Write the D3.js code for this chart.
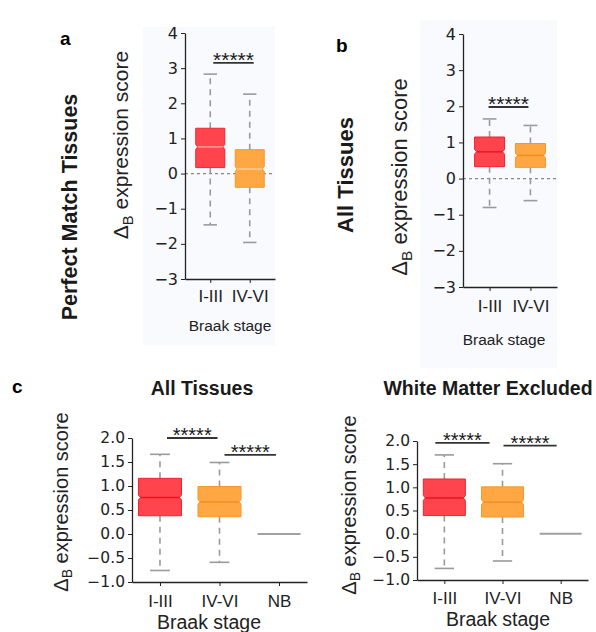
<!DOCTYPE html>
<html>
<head>
<meta charset="utf-8">
<script src="https://cdn.jsdelivr.net/npm/d3@7"></script>
<style>
  html, body { margin: 0; padding: 0; background: #ffffff; }
  svg { display: block; }
</style>
</head>
<body>
<svg id="fig" width="596" height="632"></svg>
<script>
// Braak stage groups
const stagesAB = ["I-III", "IV-VI"];
const stagesC = ["I-III", "IV-VI", "NB"];

// Panel a: Perfect Match Tissues (box statistics per stage)
const aLow  = [-1.46, -1.96];
const aQ1   = [0.17, -0.39];
const aMed  = [0.76, 0.13];
const aQ3   = [1.29, 0.68];
const aHigh = [2.83, 2.26];
const aSig  = [3.15];

// Panel b: All Tissues
const bLow  = [-0.80, -0.61];
const bQ1   = [0.33, 0.31];
const bMed  = [0.74, 0.64];
const bQ3   = [1.15, 0.97];
const bHigh = [1.65, 1.47];
const bSig  = [1.98];

// Panel c, left: All Tissues (with NB group)
const cAllLow  = [-0.76, -0.59, 0];
const cAllQ1   = [0.38, 0.36, 0];
const cAllMed  = [0.76, 0.67, 0];
const cAllQ3   = [1.16, 0.99, 0];
const cAllHigh = [1.66, 1.49, 0];
const cAllSig  = [2.0, 1.65];

// Panel c, right: White Matter Excluded
const cWmLow  = [-0.75, -0.59, 0];
const cWmQ1   = [0.39, 0.36, 0];
const cWmMed  = [0.77, 0.68, 0];
const cWmQ3   = [1.18, 1.01, 0];
const cWmHigh = [1.70, 1.51, 0];
const cWmSig  = [1.96, 1.90];

// Axis ticks
const ticksAB = [-3, -2, -1, 0, 1, 2, 3, 4];
const ticksC = [-1.0, -0.5, 0.0, 0.5, 1.0, 1.5, 2.0];

const stageFill   = { "I-III": "#ff3a44", "IV-VI": "#ffa238", "NB": "#a0a0a0" };
const stageStroke = { "I-III": "#f2222e", "IV-VI": "#f7962a", "NB": "#a0a0a0" };

const svg = d3.select("#fig");
const tickFont = "'DejaVu Sans', sans-serif";
const textFont = "'Liberation Sans', Arial, sans-serif";

// light panel backgrounds for a and b
svg.append("rect").attr("x", 143).attr("y", 27).attr("width", 132).attr("height", 318).attr("fill", "#f8fafd");
svg.append("rect").attr("x", 420).attr("y", 20).attr("width", 137).attr("height", 348).attr("fill", "#f8fafd");

function drawPanel(p) {
  const g = svg.append("g");
  const y = d3.scaleLinear().domain(p.yDomain).range(p.yRange);
  const x = d3.scalePoint().domain(p.cats).range(p.xRange).padding(p.xPad);
  const hw = p.boxW / 2;

  // zero reference line
  if (p.zeroLine) {
    g.append("line")
      .attr("x1", p.xRange[0]).attr("x2", p.xRange[1])
      .attr("y1", y(0)).attr("y2", y(0))
      .attr("stroke", "#888").attr("stroke-width", 1.3)
      .attr("stroke-dasharray", "3,3");
  }

  const rows = p.cats.map((c, i) => ({
    cat: c, low: p.low[i], q1: p.q1[i], med: p.med[i], q3: p.q3[i], high: p.high[i]
  }));

  // whiskers (dashed) and caps
  rows.filter(r => r.high !== r.low).forEach(r => {
    const cx = x(r.cat);
    [[r.q3, r.high], [r.q1, r.low]].forEach(([a, b]) => {
      g.append("line")
        .attr("x1", cx).attr("x2", cx).attr("y1", y(a)).attr("y2", y(b))
        .attr("stroke", "#9a9a9a").attr("stroke-width", 1.6)
        .attr("stroke-dasharray", "6,5");
      g.append("line")
        .attr("x1", cx - hw * 0.46).attr("x2", cx + hw * 0.46)
        .attr("y1", y(b)).attr("y2", y(b))
        .attr("stroke", "#9a9a9a").attr("stroke-width", 1.6);
    });
  });

  // notched boxes
  const nh = 2.4, nd = 2;
  rows.forEach(r => {
    const cx = x(r.cat);
    const y1 = y(r.q1), y3 = y(r.q3), ym = y(r.med);
    if (r.q3 === r.q1) {
      g.append("line")
        .attr("x1", cx - hw).attr("x2", cx + hw).attr("y1", ym).attr("y2", ym)
        .attr("stroke", stageFill[r.cat]).attr("stroke-width", 2);
      return;
    }
    const pts = [
      [cx - hw, y3], [cx + hw, y3], [cx + hw, ym - nh], [cx + hw - nd, ym],
      [cx + hw, ym + nh], [cx + hw, y1], [cx - hw, y1], [cx - hw, ym + nh],
      [cx - hw + nd, ym], [cx - hw, ym - nh]
    ];
    g.append("path")
      .attr("d", d3.line()(pts) + "Z")
      .attr("fill", stageFill[r.cat]).attr("fill-opacity", 0.95)
      .attr("stroke", stageStroke[r.cat]).attr("stroke-width", 1)
      .attr("stroke-linejoin", "round");
    g.append("line")
      .attr("x1", cx - hw + nd).attr("x2", cx + hw - nd).attr("y1", ym).attr("y2", ym)
      .attr("stroke", p.medianColor[r.cat]).attr("stroke-width", 1.4);
  });

  // axes: left and bottom spines only
  const yAxis = d3.axisLeft(y).tickValues(p.ticks).tickFormat(d3.format(p.tickFmt))
    .tickSizeOuter(0).tickSizeInner(4).tickPadding(3);
  const ya = g.append("g").attr("transform", `translate(${p.xRange[0]},0)`).call(yAxis);
  ya.select(".domain").attr("stroke", "#222").attr("stroke-width", 1.3);
  ya.selectAll(".tick line").attr("stroke", "#222").attr("stroke-width", 1);
  ya.selectAll(".tick text").attr("font-family", tickFont).attr("font-size", p.tickSize).attr("fill", "#222");

  const xAxis = d3.axisBottom(x).tickSizeOuter(0).tickSizeInner(4).tickPadding(p.xTickPad);
  const xa = g.append("g").attr("transform", `translate(0,${p.yRange[0]})`).call(xAxis);
  xa.select(".domain").attr("stroke", "#222").attr("stroke-width", 1.3);
  xa.selectAll(".tick line").attr("stroke", "#222").attr("stroke-width", 1);
  xa.selectAll(".tick text").attr("font-family", textFont).attr("font-size", 17).attr("fill", "#222");

  // significance brackets
  p.sigPairs.forEach((pair, i) => {
    const ys = y(p.sig[i]);
    const xa1 = x(pair[0]) + p.sigOff[i][0], xa2 = x(pair[1]) + p.sigOff[i][1];
    g.append("line").attr("x1", xa1).attr("x2", xa2).attr("y1", ys).attr("y2", ys)
      .attr("stroke", "#333").attr("stroke-width", 1.8);
    g.append("text").attr("x", (xa1 + xa2) / 2).attr("y", ys + 4)
      .attr("text-anchor", "middle").attr("font-family", textFont)
      .attr("font-size", p.starSize).attr("fill", "#1a1a1a").text("*****");
  });

  // y axis label: Δ_B expression score
  const yl = g.append("text")
    .attr("transform", `translate(${p.yLabel[0]},${p.yLabel[1]}) rotate(-90)`)
    .attr("text-anchor", "middle").attr("font-family", textFont)
    .attr("font-size", p.yLabelSize).attr("fill", "#222");
  yl.append("tspan").text("Δ");
  yl.append("tspan").attr("font-size", p.yLabelSize * 0.7).attr("dy", p.yLabelSize * 0.22).text("B");
  yl.append("tspan").attr("dy", -p.yLabelSize * 0.22).text(" expression score");

  // x axis label
  g.append("text").attr("x", p.xLabel[0]).attr("y", p.xLabel[1])
    .attr("text-anchor", "middle").attr("font-family", textFont)
    .attr("font-size", p.xLabelSize).attr("fill", "#222").text("Braak stage");
}

drawPanel({
  cats: stagesAB, low: aLow, q1: aQ1, med: aMed, q3: aQ3, high: aHigh,
  yDomain: [-3, 4], yRange: [279, 33], xRange: [185, 275], xPad: 0.64, boxW: 29,
  ticks: ticksAB, tickFmt: "d", tickSize: 16, xTickPad: 7, zeroLine: true,
  medianColor: { "I-III": "#ff9ea2", "IV-VI": "#ffcf9a" },
  sig: aSig, sigPairs: [["I-III", "IV-VI"]], sigOff: [[3, 4]], starSize: 21,
  yLabel: [128, 145], yLabelSize: 21, xLabel: [230, 331], xLabelSize: 15.5
});

drawPanel({
  cats: stagesAB, low: bLow, q1: bQ1, med: bMed, q3: bQ3, high: bHigh,
  yDomain: [-3, 4], yRange: [287, 34], xRange: [463, 557], xPad: 0.65, boxW: 30,
  ticks: ticksAB, tickFmt: "d", tickSize: 16, xTickPad: 9, zeroLine: true,
  medianColor: { "I-III": "#e8141f", "IV-VI": "#f08a1c" },
  sig: bSig, sigPairs: [["I-III", "IV-VI"]], sigOff: [[-1, -2]], starSize: 21,
  yLabel: [407, 177], yLabelSize: 22, xLabel: [504, 345], xLabelSize: 15.5
});

drawPanel({
  cats: stagesC, low: cAllLow, q1: cAllQ1, med: cAllMed, q3: cAllQ3, high: cAllHigh,
  yDomain: [-1, 2], yRange: [582, 438], xRange: [132, 307], xPad: 0.47, boxW: 43,
  ticks: ticksC, tickFmt: ".1f", tickSize: 15.5, xTickPad: 9, zeroLine: false,
  medianColor: { "I-III": "#e8141f", "IV-VI": "#f08a1c" },
  sig: cAllSig, sigPairs: [["I-III", "IV-VI"], ["IV-VI", "NB"]], sigOff: [[7, -2], [5, -3]], starSize: 20,
  yLabel: [68, 502], yLabelSize: 20, xLabel: [209, 629], xLabelSize: 19.5
});

drawPanel({
  cats: stagesC, low: cWmLow, q1: cWmQ1, med: cWmMed, q3: cWmQ3, high: cWmHigh,
  yDomain: [-1, 2], yRange: [580, 441], xRange: [417, 588], xPad: 0.47, boxW: 42,
  ticks: ticksC, tickFmt: ".1f", tickSize: 15.5, xTickPad: 8, zeroLine: false,
  medianColor: { "I-III": "#e8141f", "IV-VI": "#f08a1c" },
  sig: cWmSig, sigPairs: [["I-III", "IV-VI"], ["IV-VI", "NB"]], sigOff: [[-9, -13], [1, -4]], starSize: 20,
  yLabel: [356, 505], yLabelSize: 20, xLabel: [498, 626], xLabelSize: 19.5
});

// row titles (rotated) and column titles
svg.append("text")
  .attr("transform", "translate(77,207) rotate(-90)")
  .attr("text-anchor", "middle").attr("font-family", textFont).attr("font-weight", "bold")
  .attr("font-size", 21.5).attr("fill", "#1a1a1a").text("Perfect Match Tissues");
svg.append("text")
  .attr("transform", "translate(353,175) rotate(-90)")
  .attr("text-anchor", "middle").attr("font-family", textFont).attr("font-weight", "bold")
  .attr("font-size", 22).attr("fill", "#1a1a1a").text("All Tissues");
svg.append("text").attr("x", 202).attr("y", 395)
  .attr("text-anchor", "middle").attr("font-family", textFont).attr("font-weight", "bold")
  .attr("font-size", 19.5).attr("fill", "#1a1a1a").text("All Tissues");
svg.append("text").attr("x", 488).attr("y", 395)
  .attr("text-anchor", "middle").attr("font-family", textFont).attr("font-weight", "bold")
  .attr("font-size", 19.5).attr("fill", "#1a1a1a").text("White Matter Excluded");

// panel letters
[["a", 60, 45], ["b", 336, 52], ["c", 12, 393]].forEach(([t, px, py]) => {
  svg.append("text").attr("x", px).attr("y", py)
    .attr("font-family", textFont).attr("font-weight", "bold")
    .attr("font-size", 19).attr("fill", "#000").text(t);
});
</script>
</body>
</html>
